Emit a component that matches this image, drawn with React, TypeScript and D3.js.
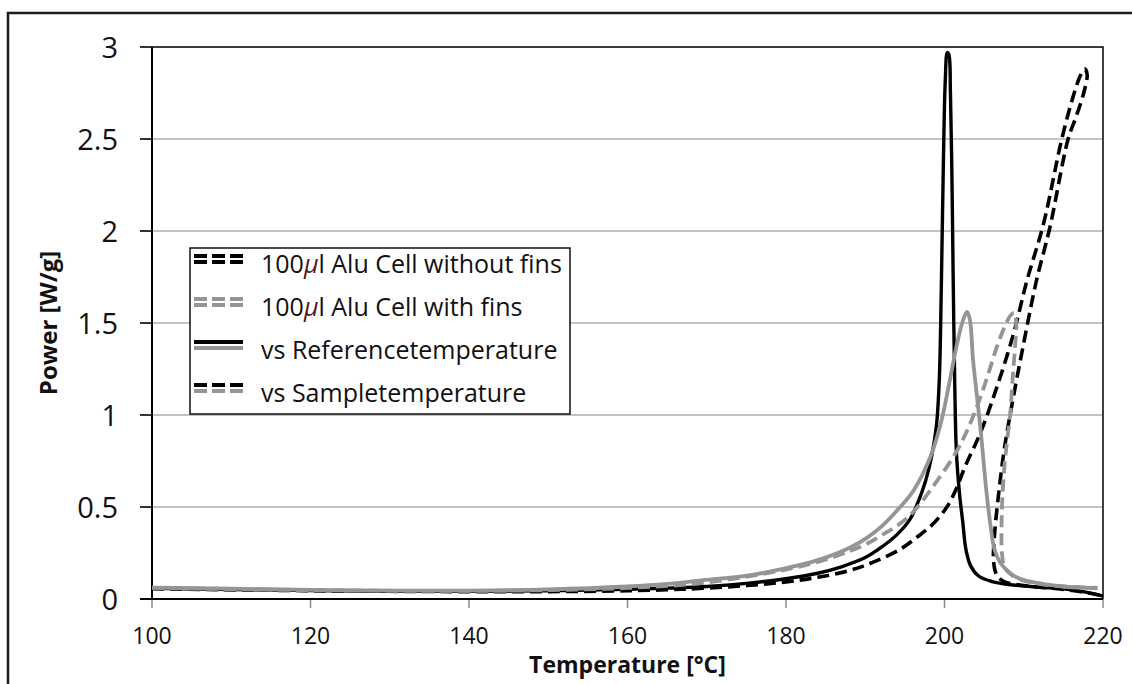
import React, { useEffect, useRef } from "react";
import * as d3 from "d3";

const xTicks = [100, 120, 140, 160, 180, 200, 220];
const yTicks = [0, 0.5, 1, 1.5, 2, 2.5, 3];

// [temperature °C, power W/g]
const refNoFins: [number, number][] = [
  [100, 0.058], [110, 0.052], [120, 0.046], [130, 0.042], [140, 0.042], [150, 0.045],
  [160, 0.053], [165, 0.059], [170, 0.068], [175, 0.085], [180, 0.11], [184, 0.14],
  [187, 0.175], [190, 0.225], [192, 0.28], [194, 0.35], [195.6, 0.43], [196.6, 0.52],
  [197.6, 0.64], [198.4, 0.78], [199, 0.95], [199.35, 1.2], [199.6, 1.7], [199.85, 2.35],
  [200.1, 2.82], [200.35, 2.97], [200.55, 2.96], [200.75, 2.75], [200.95, 2.25],
  [201.1, 1.73], [201.3, 1.15], [201.5, 0.8], [201.9, 0.57], [202.3, 0.42], [202.7, 0.27],
  [203.3, 0.18], [204.3, 0.125], [206, 0.095], [208.7, 0.076], [212, 0.064], [215, 0.055],
  [218, 0.036], [220, 0.016],
];

const sampleNoFins: [number, number][] = [
  [100, 0.056], [120, 0.045], [140, 0.04], [150, 0.04], [160, 0.045], [165, 0.05],
  [169, 0.057], [175, 0.073], [180, 0.093], [184, 0.118], [188, 0.155], [191, 0.2],
  [194.4, 0.27], [196.5, 0.335], [198.6, 0.41], [200.3, 0.5], [201.5, 0.6], [202.6, 0.72],
  [204.5, 0.9], [206.6, 1.15], [208.7, 1.44], [210.4, 1.73], [212.5, 2.04], [214.8, 2.5],
  [216.3, 2.74], [217.2, 2.85], [217.7, 2.88], [218.0, 2.85], [217.5, 2.74], [216.6, 2.62],
  [215.6, 2.5], [213.3, 2.02], [211.6, 1.73], [209.9, 1.37], [208.7, 1.1], [207.6, 0.83],
  [206.8, 0.56], [206.3, 0.34], [206.2, 0.2], [206.6, 0.13], [207.5, 0.095], [209.5, 0.076],
  [212, 0.064], [215, 0.052], [218, 0.034], [220, 0.016],
];

const refFins: [number, number][] = [
  [100, 0.062], [110, 0.056], [120, 0.05], [130, 0.046], [140, 0.046], [150, 0.052],
  [160, 0.068], [165, 0.082], [169, 0.1], [175.5, 0.13], [181.8, 0.185], [185, 0.225],
  [188.1, 0.28], [190.3, 0.335], [192.2, 0.4], [194.2, 0.49], [196.1, 0.59], [198.2, 0.77],
  [199.5, 0.95], [200.5, 1.15], [201.5, 1.37], [202.3, 1.51], [202.85, 1.56], [203.2, 1.52],
  [203.6, 1.3], [204.1, 1.1], [204.6, 0.9], [205.3, 0.58], [205.8, 0.4], [206.3, 0.27],
  [207, 0.2], [207.8, 0.16], [209, 0.12], [210.8, 0.094], [213, 0.078], [215, 0.068],
  [219.3, 0.058],
];

const sampleFins: [number, number][] = [
  [100, 0.06], [120, 0.048], [140, 0.044], [150, 0.048], [160, 0.06], [169, 0.085],
  [177.6, 0.14], [183.9, 0.2], [188, 0.26], [190.2, 0.3], [192.2, 0.35], [194.4, 0.41],
  [196.2, 0.48], [198.7, 0.62], [201.5, 0.8], [203, 0.93], [204.3, 1.07], [205.5, 1.22],
  [206.6, 1.37], [207.6, 1.48], [208.4, 1.545], [208.8, 1.555], [209.05, 1.5], [208.9, 1.37],
  [208.6, 1.2], [208.3, 1.01], [207.9, 0.86], [207.6, 0.74], [207.3, 0.55], [207.2, 0.4],
  [207.25, 0.25], [207.6, 0.17], [208.5, 0.13], [210, 0.1], [212, 0.082], [215, 0.068],
  [219.3, 0.06],
];

const legendLabels = [
  "100μl Alu Cell without fins",
  "100μl Alu Cell with fins",
  "vs Referencetemperature",
  "vs Sampletemperature",
];

const BLACK = "#000";
const GRAY = "#959595";
const DASH = "12,6";

export default function App() {
  const ref = useRef<SVGSVGElement>(null);

  useEffect(() => {
    const svg = d3.select(ref.current);
    svg.selectAll("*").remove();

    const font = "'Open Sans', sans-serif";
    const left = 152, right = 1103, top = 47, bottom = 599;

    const x = d3.scaleLinear().domain([100, 220]).range([left, right]);
    const y = d3.scaleLinear().domain([0, 3]).range([bottom, top]);

    svg.append("rect").attr("width", 1132).attr("height", 684).attr("fill", "#fff");

    // outer frame
    svg.append("path")
      .attr("d", "M8,684 L8,13 L1140,13")
      .attr("fill", "none")
      .attr("stroke", "#1a1a1a")
      .attr("stroke-width", 2.5);

    // gridlines
    svg.append("g")
      .selectAll("line")
      .data(yTicks.filter((d) => d > 0))
      .enter()
      .append("line")
      .attr("x1", left)
      .attr("x2", right)
      .attr("y1", (d) => y(d))
      .attr("y2", (d) => y(d))
      .attr("stroke", "#868686")
      .attr("stroke-width", 1.2);

    // plot area border
    svg.append("path")
      .attr("d", `M${left},${top} L${right},${top} L${right},${bottom}`)
      .attr("fill", "none")
      .attr("stroke", "#111")
      .attr("stroke-width", 1.6);

    // y ticks + labels
    const yg = svg.append("g");
    yTicks.forEach((t) => {
      yg.append("line")
        .attr("x1", left - 12).attr("x2", left)
        .attr("y1", y(t)).attr("y2", y(t))
        .attr("stroke", "#000").attr("stroke-width", 1.6);
      yg.append("text")
        .attr("x", 118)
        .attr("y", y(t) + 10.5)
        .attr("text-anchor", "end")
        .attr("font-family", font)
        .attr("font-size", 29)
        .attr("fill", "#111")
        .text(String(t));
    });

    // x ticks + labels
    const xg = svg.append("g");
    xTicks.forEach((t) => {
      xg.append("line")
        .attr("x1", x(t)).attr("x2", x(t))
        .attr("y1", bottom).attr("y2", bottom + 9)
        .attr("stroke", "#8a8a8a").attr("stroke-width", 1.5);
      xg.append("text")
        .attr("x", x(t))
        .attr("y", 644)
        .attr("text-anchor", "middle")
        .attr("font-family", font)
        .attr("font-size", 23)
        .attr("fill", "#111")
        .text(String(t));
    });

    // axes lines
    svg.append("line")
      .attr("x1", left).attr("x2", left).attr("y1", top).attr("y2", bottom)
      .attr("stroke", "#000").attr("stroke-width", 2);
    svg.append("line")
      .attr("x1", left - 12).attr("x2", right).attr("y1", bottom).attr("y2", bottom)
      .attr("stroke", "#000").attr("stroke-width", 2);

    // axis titles
    svg.append("text")
      .attr("transform", `translate(57,${(top + bottom) / 2}) rotate(-90)`)
      .attr("text-anchor", "middle")
      .attr("font-family", font)
      .attr("font-weight", "bold")
      .attr("font-size", 24)
      .attr("fill", "#111")
      .text("Power [W/g]");
    svg.append("text")
      .attr("x", (left + right) / 2)
      .attr("y", 673)
      .attr("text-anchor", "middle")
      .attr("font-family", font)
      .attr("font-weight", "bold")
      .attr("font-size", 23)
      .attr("fill", "#111")
      .text("Temperature [°C]");

    // curves
    svg.append("defs").append("clipPath").attr("id", "plotclip")
      .append("rect").attr("x", left).attr("y", top - 10)
      .attr("width", right - left + 2).attr("height", bottom - top + 10);

    const line = d3.line<[number, number]>()
      .x((d) => x(d[0]))
      .y((d) => y(d[1]))
      .curve(d3.curveCatmullRom.alpha(0.5));

    const series = [
      { data: refNoFins, color: BLACK, dash: null, width: 3.4 },
      { data: sampleNoFins, color: BLACK, dash: DASH, width: 3.6 },
      { data: refFins, color: GRAY, dash: null, width: 3.8 },
      { data: sampleFins, color: GRAY, dash: DASH, width: 3.8 },
    ];

    const cg = svg.append("g").attr("clip-path", "url(#plotclip)");
    series.forEach((s) => {
      cg.append("path")
        .datum(s.data)
        .attr("d", line)
        .attr("fill", "none")
        .attr("stroke", s.color)
        .attr("stroke-width", s.width)
        .attr("stroke-linejoin", "round")
        .attr("stroke-dasharray", s.dash);
    });

    // legend
    const lg = svg.append("g");
    lg.append("rect")
      .attr("x", 190).attr("y", 248).attr("width", 380).attr("height", 166)
      .attr("fill", "#fff").attr("stroke", "#111").attr("stroke-width", 1.5);

    const keys = [
      [{ c: BLACK, d: DASH }, { c: BLACK, d: DASH }],
      [{ c: GRAY, d: DASH }, { c: GRAY, d: DASH }],
      [{ c: BLACK, d: null }, { c: GRAY, d: null }],
      [{ c: BLACK, d: DASH }, { c: GRAY, d: DASH }],
    ];

    legendLabels.forEach((label, i) => {
      const cy = 264 + i * 43;
      keys[i].forEach((k, j) => {
        lg.append("line")
          .attr("x1", 194).attr("x2", 243)
          .attr("y1", cy - 8 + j * 6).attr("y2", cy - 8 + j * 6)
          .attr("stroke", k.c)
          .attr("stroke-width", 4)
          .attr("stroke-dasharray", k.d ? "13,5" : null);
      });
      const t = lg.append("text")
        .attr("x", 261)
        .attr("y", cy + 9)
        .attr("font-family", font)
        .attr("font-size", 25)
        .attr("fill", "#111");
      const parts = label.split("μ");
      if (parts.length > 1) {
        t.append("tspan").text(parts[0]);
        t.append("tspan").attr("fill", "#5c1515").attr("font-style", "italic").text("μ");
        t.append("tspan").text(parts[1]);
      } else {
        t.text(label);
      }
    });
  }, []);

  return (
    <svg
      ref={ref}
      width={1132}
      height={684}
      style={{ position: "absolute", left: 0, top: 0, display: "block" }}
    />
  );
}
